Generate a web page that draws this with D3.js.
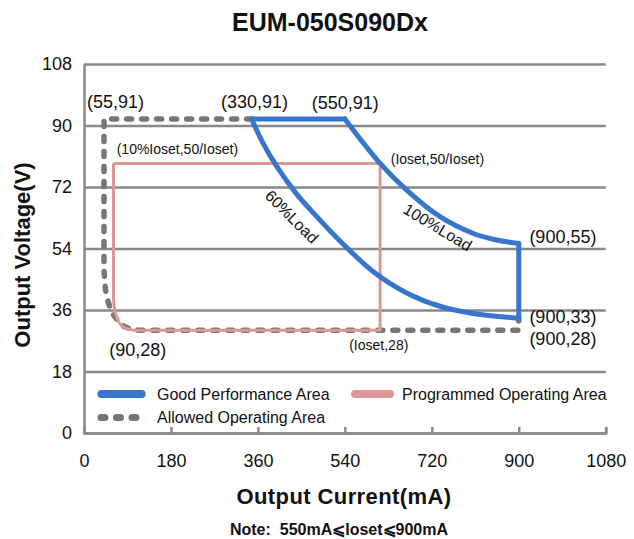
<!DOCTYPE html>
<html>
<head>
<meta charset="utf-8">
<script src="https://cdn.jsdelivr.net/npm/d3@7"></script>
<style>
body { margin: 0; background: #fff; }
text { font-family: "Liberation Sans", Arial, sans-serif; fill: #111; }
</style>
</head>
<body>
<div id="chart"></div>
<script>
// EUM-050S090Dx operating area
var currentTicks = [0, 180, 360, 540, 720, 900, 1080];
var voltageTicks = [0, 18, 36, 54, 72, 90, 108];

// [current mA, voltage V]
var load60 = [[347, 91.9], [370, 85], [400, 77.8], [440, 70], [475, 64.4], [530, 56.2], [599, 47.2], [668, 41], [737, 37.1], [806, 35], [900, 33.6]];
var load100 = [[540, 91.9], [613, 78.9], [668, 71.1], [737, 63.3], [806, 58.4], [854, 56.5], [900, 55.5]];
var goodTop = [[347, 91.9], [540, 91.9]];
var goodRight = [[900, 55.5], [900, 33.6]];
var programmed = [[61.1, 78.9], [613, 78.9], [613, 30.1], [101.4, 30.1], [89, 30.5], [78.7, 31.3], [71.4, 32.6],
	[66.3, 34.5], [63.1, 36.6], [61.1, 38.9], [61.1, 78.9]];
var allowed = [[347, 91.9], [41.4, 91.9], [41.4, 47.7], [44.5, 41.9], [47.6, 39.5], [52.8, 37.2], [60, 34.8],
	[70.4, 32.8], [82.8, 31.2], [97.3, 30.4], [111.8, 30.1], [900, 30.1], [900, 33.6]];

// point labels: text, current, voltage, size
var pointLabels = [
	["(55,91)", 6.2, 95.1, 18],
	["(330,91)", 283.6, 95.1, 18],
	["(550,91)", 471.4, 94.8, 18],
	["(10%Ioset,50/Ioset)", 67.7, 81.7, 14],
	["(Ioset,50/Ioset)", 635, 78.7, 14],
	["(900,55)", 922, 55.6, 18],
	["(900,33)", 922, 32.05, 18],
	["(900,28)", 922, 25.9, 18],
	["(Ioset,28)", 549, 24.3, 14],
	["(90,28)", 52.4, 22.5, 18]
];
var loadLabels = [["60%Load", 430, 63.3, 45], ["100%Load", 732, 60.2, 31]];

var legendNames = ["Good Performance Area", "Programmed Operating Area", "Allowed Operating Area"];

var width = 634;
var height = 539;

var svg = d3.select("#chart")
	.append("svg")
	.attr("width", width)
	.attr("height", height);

var xScale = d3.scaleLinear().domain([0, 1080]).range([84, 605.7]);
var yScale = d3.scaleLinear().domain([0, 108]).range([433, 64]);

var gridColor = "#898989";

// y axis with gridlines
var yAxis = d3.axisLeft(yScale)
	.tickValues(voltageTicks)
	.tickSizeInner(-(xScale(1080) - xScale(0)))
	.tickSizeOuter(0)
	.tickPadding(12);

var gy = svg.append("g")
	.attr("transform", "translate(" + xScale(0) + ",0)")
	.call(yAxis);
gy.selectAll("line").attr("stroke", gridColor).attr("stroke-width", 2.5);
gy.select(".domain").attr("stroke", gridColor).attr("stroke-width", 2.5);
gy.selectAll("text").style("font-size", "18px").attr("fill", "#111");

// x axis, ticks pointing up
var xAxis = d3.axisBottom(xScale)
	.tickValues(currentTicks)
	.tickFormat(d3.format("d"))
	.tickSizeInner(-6)
	.tickSizeOuter(-6)
	.tickPadding(21);

var gx = svg.append("g")
	.attr("transform", "translate(0," + yScale(0) + ")")
	.call(xAxis);
gx.selectAll("line").attr("stroke", gridColor).attr("stroke-width", 2.5);
gx.select(".domain").attr("stroke", gridColor).attr("stroke-width", 2.5);
gx.selectAll("text").style("font-size", "18px").attr("fill", "#111");

var line = d3.line()
	.x(function(d){ return xScale(d[0]); })
	.y(function(d){ return yScale(d[1]); });

var smooth = d3.line()
	.x(function(d){ return xScale(d[0]); })
	.y(function(d){ return yScale(d[1]); })
	.curve(d3.curveCatmullRom.alpha(0.5));

var blue = "#3776cc";
var pink = "#dc9797";
var grey = "#767676";

// allowed operating area (dashed)
svg.append("path")
	.attr("d", line(allowed))
	.attr("fill", "none")
	.attr("stroke", grey)
	.attr("stroke-width", 5.5)
	.attr("stroke-linecap", "round")
	.attr("stroke-linejoin", "round")
	.attr("stroke-dasharray", "5,10");

// programmed operating area
svg.append("path")
	.attr("d", line(programmed))
	.attr("fill", "none")
	.attr("stroke", pink)
	.attr("stroke-width", 3)
	.attr("stroke-linejoin", "round");

// good performance area
[goodTop, goodRight].forEach(function(seg){
	svg.append("path")
		.attr("d", line(seg))
		.attr("fill", "none")
		.attr("stroke", blue)
		.attr("stroke-width", 5)
		.attr("stroke-linecap", "round");
});
[load60, load100].forEach(function(seg){
	svg.append("path")
		.attr("d", smooth(seg))
		.attr("fill", "none")
		.attr("stroke", blue)
		.attr("stroke-width", 5)
		.attr("stroke-linecap", "round");
});

svg.selectAll(".plabel")
	.data(pointLabels)
	.enter()
	.append("text")
	.attr("class", "plabel")
	.attr("x", function(d){ return xScale(d[1]); })
	.attr("y", function(d){ return yScale(d[2]); })
	.style("font-size", function(d){ return d[3] + "px"; })
	.text(function(d){ return d[0]; });

svg.selectAll(".llabel")
	.data(loadLabels)
	.enter()
	.append("text")
	.attr("class", "llabel")
	.attr("text-anchor", "middle")
	.attr("dominant-baseline", "central")
	.attr("transform", function(d){
		return "translate(" + xScale(d[1]) + "," + yScale(d[2]) + ") rotate(" + d[3] + ")";
	})
	.style("font-size", "16px")
	.text(function(d){ return d[0]; });

// legend
var legend = svg.append("g");
legend.append("line")
	.attr("x1", 101.5).attr("x2", 141.7).attr("y1", 394).attr("y2", 394)
	.attr("stroke", blue).attr("stroke-width", 8).attr("stroke-linecap", "round");
legend.append("line")
	.attr("x1", 355).attr("x2", 390).attr("y1", 394).attr("y2", 394)
	.attr("stroke", pink).attr("stroke-width", 8).attr("stroke-linecap", "round");
legend.append("line")
	.attr("x1", 101).attr("x2", 137).attr("y1", 417.5).attr("y2", 417.5)
	.attr("stroke", grey).attr("stroke-width", 7).attr("stroke-linecap", "round")
	.attr("stroke-dasharray", "4,11.5");

legend.append("text").attr("x", 157).attr("y", 399.5).style("font-size", "16px").text(legendNames[0]);
legend.append("text").attr("x", 402).attr("y", 399.5).style("font-size", "16px").text(legendNames[1]);
legend.append("text").attr("x", 157).attr("y", 423).style("font-size", "16px").text(legendNames[2]);

// titles
svg.append("text")
	.attr("x", 330).attr("y", 31)
	.attr("text-anchor", "middle")
	.style("font-size", "25px").style("font-weight", "bold")
	.text("EUM-050S090Dx");

svg.append("text")
	.attr("transform", "translate(30,255) rotate(-90)")
	.attr("text-anchor", "middle")
	.style("font-size", "22px").style("font-weight", "bold")
	.text("Output Voltage(V)");

svg.append("text")
	.attr("x", 344).attr("y", 504)
	.attr("text-anchor", "middle")
	.style("font-size", "22px").style("font-weight", "bold")
	.style("letter-spacing", "0.4px")
	.text("Output Current(mA)");

svg.append("text")
	.attr("x", 339).attr("y", 535)
	.attr("text-anchor", "middle")
	.style("font-size", "16px").style("font-weight", "bold")
	.style("white-space", "pre")
	.text("Note:  550mA\u2A7DIoset\u2A7D900mA");
</script>
</body>
</html>
